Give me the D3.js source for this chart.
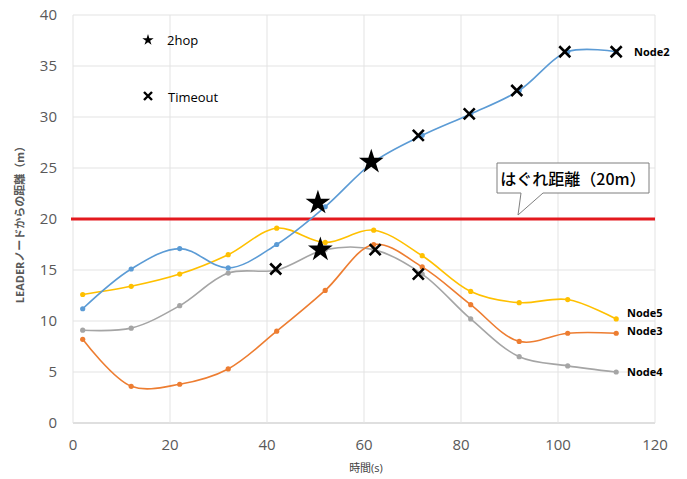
<!DOCTYPE html>
<html><head><meta charset="utf-8">
<script src="https://cdn.jsdelivr.net/npm/d3@7"></script>
<style>body{margin:0;background:#fff;}</style>
</head><body>
<svg id="c" width="687" height="479"></svg>
<script>
const xs = [2,12,22,32,42,52,62,72,82,92,102,112];
const node2 = [11.2,15.1,17.1,15.2,17.5,21.2,25.6,28.2,30.3,32.6,36.4,36.4];
const node5 = [12.6,13.4,14.6,16.5,19.1,17.7,18.9,16.4,12.9,11.8,12.1,10.2];
const node3 = [8.2,3.6,3.8,5.3,9.0,13.0,17.5,15.3,11.6,8.0,8.8,8.8];
const node4 = [9.1,9.3,11.5,14.7,15.0,17.0,17.0,14.6,10.2,6.5,5.6,5.0];
const seriesNames = ["Node2","Node5","Node3","Node4"];
const seriesColors = ["#5b9bd5","#ffc000","#ed7d31","#a5a5a5"];
const hop2X = [50.5,61.5,51];
const hop2Y = [21.6,25.6,17.0];
const timeoutX = [71.2,81.7,91.5,101.4,112,41.8,62.3,71.2];
const timeoutY = [28.2,30.3,32.6,36.4,36.4,15.1,17.0,14.6];
const threshold = 20;
const xTicks = [0,20,40,60,80,100,120];
const yTicks = [0,5,10,15,20,25,30,35,40];

const svg = d3.select("#c");
const x = d3.scaleLinear().domain([0,120]).range([73,655]);
const y = d3.scaleLinear().domain([0,40]).range([423,15]);
const font = "'Open Sans','Noto Sans CJK JP',sans-serif";

// gridlines
svg.append("g").selectAll("line").data(yTicks).join("line")
  .attr("x1",x(0)).attr("x2",x(120)).attr("y1",d=>y(d)).attr("y2",d=>y(d))
  .attr("stroke",d=>d===0?"#bfbfbf":"#e3e3e3").attr("stroke-width",1);
svg.append("g").selectAll("line").data(xTicks).join("line")
  .attr("x1",d=>x(d)).attr("x2",d=>x(d)).attr("y1",y(0)).attr("y2",y(40))
  .attr("stroke","#e3e3e3").attr("stroke-width",1);

// tick labels
svg.append("g").selectAll("text").data(yTicks).join("text")
  .attr("x",57).attr("y",d=>y(d)+5).attr("text-anchor","end")
  .attr("font-family",font).attr("font-size",15).attr("fill","#595959").text(d=>d);
svg.append("g").selectAll("text").data(xTicks).join("text")
  .attr("x",d=>x(d)).attr("y",450).attr("text-anchor","middle")
  .attr("font-family",font).attr("font-size",15).attr("fill","#595959").text(d=>d);

// axis titles
svg.append("text").attr("x",366).attr("y",472).attr("text-anchor","middle")
  .attr("font-family",font).attr("font-size",11).attr("fill","#404040").text("時間(s)");
svg.append("text").attr("transform","translate(24,222) rotate(-90)").attr("text-anchor","middle")
  .attr("font-family",font).attr("font-size",11).attr("font-weight","bold").attr("fill","#595959")
  .text("LEADERノードからの距離（m）");

// threshold line
svg.append("line").attr("x1",x(0)-2).attr("x2",x(120)).attr("y1",y(threshold)).attr("y2",y(threshold))
  .attr("stroke","#e3191e").attr("stroke-width",3);

// series
const data = [node2,node5,node3,node4];
const line = d3.line().x((d,i)=>x(xs[i])).y(d=>y(d)).curve(d3.curveCatmullRom.alpha(0.5));
const order = [3,2,1,0];
order.forEach(k=>{
  svg.append("path").attr("d",line(data[k])).attr("fill","none")
    .attr("stroke",seriesColors[k]).attr("stroke-width",1.6);
  svg.append("g").selectAll("circle").data(data[k]).join("circle")
    .attr("cx",(d,i)=>x(xs[i])).attr("cy",d=>y(d)).attr("r",2.6).attr("fill",seriesColors[k]);
});

// markers
const star = d3.symbol().type(d3.symbolStar);
svg.append("g").selectAll("path").data(hop2X).join("path")
  .attr("transform",(d,i)=>`translate(${x(d)},${y(hop2Y[i])})`)
  .attr("d",star.size(190)()).attr("fill","#000");
function drawX(g,cx,cy,s,w){
  g.append("path").attr("d",`M${cx-s},${cy-s}L${cx+s},${cy+s}M${cx-s},${cy+s}L${cx+s},${cy-s}`)
   .attr("stroke","#000").attr("stroke-width",w).attr("fill","none");
}
const gx = svg.append("g");
timeoutX.forEach((d,i)=>drawX(gx,x(d),y(timeoutY[i]),5.5,2.6));

// legend
svg.append("path").attr("transform","translate(148,40)").attr("d",star.size(40)()).attr("fill","#000");
svg.append("text").attr("x",167).attr("y",45).attr("font-family",font).attr("font-size",13).attr("fill","#000").text("2hop");
drawX(svg,148,96,4,2.4);
svg.append("text").attr("x",168).attr("y",102).attr("font-family",font).attr("font-size",13).attr("fill","#000").text("Timeout");

// series labels
const lbl = [["Node2",634,56],["Node5",627,317],["Node3",627,335],["Node4",627,376]];
svg.append("g").selectAll("text").data(lbl).join("text")
  .attr("x",d=>d[1]).attr("y",d=>d[2]).attr("font-family",font).attr("font-size",11)
  .attr("font-weight","bold").attr("fill","#000").text(d=>d[0]);

// callout
svg.append("path").attr("d","M497,163L649,163L649,193L543,193L518,215L521,193L497,193Z")
  .attr("fill","#fff").attr("stroke","#7f7f7f").attr("stroke-width",1);
svg.append("text").attr("x",573).attr("y",185).attr("text-anchor","middle")
  .attr("font-family","'Noto Sans CJK JP',sans-serif").attr("font-size",16).attr("font-weight","500")
  .attr("fill","#000").text("はぐれ距離（20m）");
</script>
</body></html>
